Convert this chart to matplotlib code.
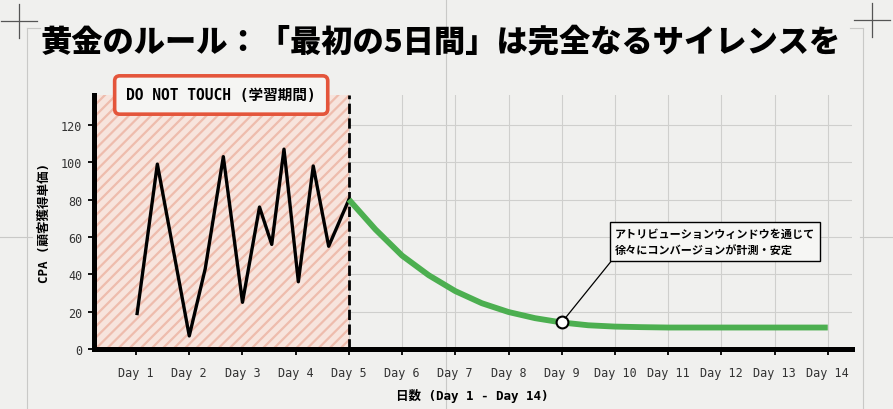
import matplotlib
matplotlib.use("Agg")
import matplotlib.pyplot as plt
from matplotlib.lines import Line2D

# data
days = list(range(1, 15))
day_labels = ["Day %d" % d for d in days]

learn_x = [1.02, 1.40, 2.00, 2.30, 2.64, 3.00, 3.32, 3.55, 3.78, 4.05, 4.33, 4.62, 5.0]
learn_cpa = [19, 99, 7, 43, 103, 25, 76, 56, 107, 36, 98, 55, 80]

stable_x = [5, 5.5, 6, 6.5, 7, 7.5, 8, 8.5, 9, 9.5, 10, 10.5, 11, 11.5, 12, 12.5, 13, 13.5, 14]
stable_cpa = [80, 64, 50, 39.5, 31, 24.5, 19.8, 16.5, 14.2, 12.7, 12.0, 11.7, 11.5, 11.5, 11.5, 11.5, 11.5, 11.5, 11.5]

learn_end = 5
note_day = 9
y_ticks = [0, 20, 40, 60, 80, 100, 120]

title = "黄金のルール：「最初の5日間」は完全なるサイレンスを"
box_label = "DO NOT TOUCH (学習期間)"
note = "アトリビューションウィンドウを通じて\n徐々にコンバージョンが計測・安定"
xlab = "日数 (Day 1 - Day 14)"
ylab = "CPA (顧客獲得単価)"

bg = "#f0f0ee"
mono = ["DejaVu Sans Mono", "Noto Sans CJK JP"]
jp = ["Noto Sans CJK JP", "DejaVu Sans"]
plt.rcParams["hatch.linewidth"] = 1.6

W, H = 893, 410
fig = plt.figure(figsize=(W / 100, H / 100), dpi=100, facecolor=bg)


def px(x, y):
    return x / W, 1 - y / H


# slide guide lines in the background
guide = dict(color="#c9c9c7", lw=0.8, zorder=-5)
for (x0, y0), (x1, y1) in [((446, 0), (446, 410)), ((26.7, 29), (26.7, 410)),
                           ((863.3, 29), (863.3, 410)), ((26.7, 29), (40, 29)),
                           ((850, 29), (863.3, 29)), ((0, 238), (32, 238)),
                           ((860, 238), (893, 238))]:
    a, b = px(x0, y0), px(x1, y1)
    fig.add_artist(Line2D([a[0], b[0]], [a[1], b[1]], transform=fig.transFigure, **guide))
cross = dict(color="#555555", lw=0.9, zorder=-4)
for cx, cy in [(19, 21.5), (871.7, 20.7)]:
    a, b = px(cx - 18, cy), px(cx + 18, cy)
    fig.add_artist(Line2D([a[0], b[0]], [a[1], b[1]], transform=fig.transFigure, **cross))
    a, b = px(cx, cy - 17), px(cx, cy + 17)
    fig.add_artist(Line2D([a[0], b[0]], [a[1], b[1]], transform=fig.transFigure, **cross))

l, r = 93.5 / W, 851.7 / W
b_, t_ = 1 - 350 / H, 1 - 96 / H
ax = fig.add_axes([l, b_, r - l, t_ - b_])
ax.patch.set_alpha(0)

xmin, xmax = 0.2, 14.45
ax.set_xlim(xmin, xmax)
ax.set_ylim(0, 136)

ax.grid(True, color="#cfcfcd", lw=0.8, zorder=0)
ax.set_axisbelow(True)

ax.axvspan(xmin, learn_end, facecolor="#f7e4dd", edgecolor="#eebcad", hatch="///", lw=0, zorder=1)
ax.axvline(learn_end, color="black", ls="--", lw=2, zorder=3)

ax.plot(learn_x, learn_cpa, color="black", lw=2.4, zorder=4)
ax.plot(stable_x, stable_cpa, color="#4caf50", lw=4.2, solid_capstyle="butt", zorder=4)

note_y = stable_cpa[stable_x.index(note_day)]
ax.plot([note_day], [note_y], "o", ms=8.5, mfc="white", mec="black", mew=1.5, zorder=6)
ax.annotate(note, xy=(note_day, note_y), xytext=(10.0, 49.5), ha="left", va="bottom",
            fontsize=8, family=jp, weight="bold", linespacing=1.35, zorder=7,
            bbox=dict(boxstyle="square,pad=0.42", fc="#f6f6f4", ec="black", lw=1.0),
            arrowprops=dict(arrowstyle="-", color="black", lw=0.9, relpos=(0, 0),
                            shrinkA=0, shrinkB=4))

ax.text((xmin + learn_end) / 2, 1.0, box_label, transform=ax.get_xaxis_transform(),
        ha="center", va="center", fontsize=10.5, family=mono, weight="bold", zorder=8,
        bbox=dict(boxstyle="round,pad=0.8,rounding_size=0.35", fc="#f5f5f3",
                  ec="#e4553b", lw=2.6))

ax.set_xticks(days)
ax.set_xticklabels(day_labels)
ax.set_yticks(y_ticks)
for lab in ax.get_xticklabels() + ax.get_yticklabels():
    lab.set_family(mono)
    lab.set_fontsize(8.5)
    lab.set_color("#333333")
ax.tick_params(length=4, width=1.3, color="black")
ax.tick_params(axis="x", pad=8)
ax.tick_params(axis="y", pad=4)

for s in ["top", "right"]:
    ax.spines[s].set_visible(False)
for s in ["left", "bottom"]:
    ax.spines[s].set_linewidth(3.6)
    ax.spines[s].set_color("black")
    ax.spines[s].set_zorder(5)

ax.set_xlabel(xlab, family=mono, weight="bold", fontsize=9, labelpad=7)
ax.set_ylabel(ylab, family=mono, weight="bold", fontsize=9, labelpad=7)

fig.text(441 / W, 1 - 42 / H, title, ha="center", va="center", fontsize=22.5,
         family=jp, weight="heavy", color="black")

fig.savefig("out.png", dpi=100, facecolor=bg)
